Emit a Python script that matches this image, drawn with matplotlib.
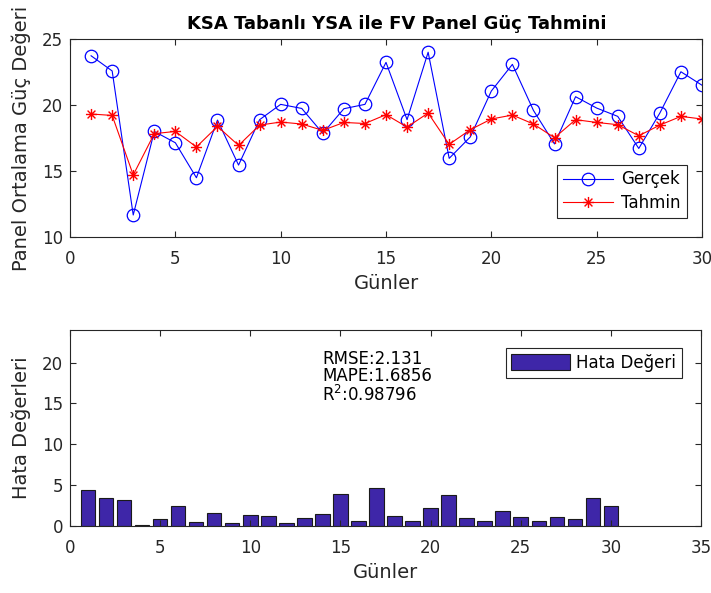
import matplotlib
matplotlib.use("Agg")
import matplotlib.pyplot as plt
import numpy as np
from matplotlib.path import Path

# veriler
gunler = np.arange(1, 31)
gercek = [23.73, 22.58, 11.67, 18.00, 17.14, 14.49, 18.86, 15.45, 18.89, 20.05,
          19.74, 17.85, 19.72, 20.05, 23.23, 18.89, 24.00, 15.96, 17.58, 21.06,
          23.08, 19.59, 17.05, 20.63, 19.77, 19.14, 16.71, 19.39, 22.52, 21.50]
tahmin = [19.32, 19.21, 14.70, 17.83, 18.00, 16.82, 18.38, 16.94, 18.48, 18.71,
          18.56, 18.08, 18.68, 18.60, 19.27, 18.33, 19.39, 17.02, 18.13, 18.94,
          19.24, 18.56, 17.52, 18.89, 18.68, 18.51, 17.67, 18.48, 19.14, 18.94]
hata = [4.35, 3.37, 3.13, 0.17, 0.89, 2.40, 0.49, 1.59, 0.37, 1.30,
        1.18, 0.33, 0.98, 1.42, 3.94, 0.57, 4.63, 1.22, 0.57, 2.15,
        3.78, 0.98, 0.57, 1.79, 1.10, 0.57, 1.06, 0.81, 3.37, 2.48]
metrikler = ["RMSE:2.131", "MAPE:1.6856", "R$^2$:0.98796"]

plt.rcParams['font.family'] = ['DejaVu Sans']
plt.rcParams['mathtext.fontset'] = 'dejavusans'

koyu = '#262626'

# matlab tarzı yıldız (artı + çarpı)
d = 0.7071
yildiz = Path([(-1, 0), (1, 0), (0, -1), (0, 1), (-d, -d), (d, d), (-d, d), (d, -d)],
              [Path.MOVETO, Path.LINETO] * 4)


def eksen_ayarla(ax):
    for s in ax.spines.values():
        s.set_color(koyu)
        s.set_linewidth(0.8)
    ax.tick_params(direction='in', top=True, right=True, length=4, width=0.8,
                   colors=koyu, labelsize=12)
    ax.tick_params(axis='x', pad=9.5)
    ax.tick_params(axis='y', pad=5)


fig = plt.figure(figsize=(7.11, 5.93), dpi=100)

# üst grafik
ax1 = fig.add_axes([0.0985, 0.6003, 0.8888, 0.3339])
ax1.plot(gunler, gercek, color='b', lw=0.8, marker='o', ms=9, mfc='none',
         mew=0.9, label='Gerçek')
ax1.plot(gunler, tahmin, color='r', lw=0.8, marker=yildiz, ms=8, mew=1.0,
         label='Tahmin')
ax1.set_xlim(0, 30)
ax1.set_ylim(10, 25)
ax1.set_xticks(range(0, 31, 5))
ax1.set_yticks([10, 15, 20, 25])
eksen_ayarla(ax1)
ax1.set_xlabel('Günler', fontsize=14, color=koyu, labelpad=4.5)
ax1.set_ylabel('Panel Ortalama Güç Değeri', fontsize=14, color=koyu, labelpad=8)
ax1.set_title('KSA Tabanlı YSA ile FV Panel Güç Tahmini', fontsize=13,
              fontweight='bold', x=0.517, pad=7)
leg = ax1.legend(loc='lower right', bbox_to_anchor=(0.976, 0.096), fontsize=12,
                 handlelength=3.0, handletextpad=0.5, fancybox=False,
                 framealpha=1, edgecolor=koyu, borderpad=0.35,
                 labelspacing=0.35, borderaxespad=0)
leg.get_frame().set_linewidth(0.8)

# alt grafik
ax2 = fig.add_axes([0.0985, 0.113, 0.8874, 0.3305])
ax2.bar(gunler, hata, width=0.8, color='#3E26A8', edgecolor='#1a1a1a',
        linewidth=0.8, label='Hata Değeri')
ax2.set_xlim(0, 35)
ax2.set_ylim(0, 24)
ax2.set_xticks(range(0, 36, 5))
ax2.set_yticks([0, 5, 10, 15, 20])
eksen_ayarla(ax2)
ax2.set_xlabel('Günler', fontsize=14, color=koyu, labelpad=4.5)
ax2.set_ylabel('Hata Değerleri', fontsize=14, color=koyu, labelpad=8)
leg2 = ax2.legend(loc='upper right', bbox_to_anchor=(0.970, 0.908), fontsize=12,
                  handlelength=3.5, handleheight=1.1, handletextpad=0.4,
                  fancybox=False, framealpha=1, edgecolor=koyu,
                  borderpad=0.35, borderaxespad=0)
leg2.get_frame().set_linewidth(0.8)

ax2.text(14.0, 21.55, "\n".join(metrikler), fontsize=12, color='black',
         va='top', ha='left', linespacing=0.95)

fig.savefig('out.png', dpi=100)
